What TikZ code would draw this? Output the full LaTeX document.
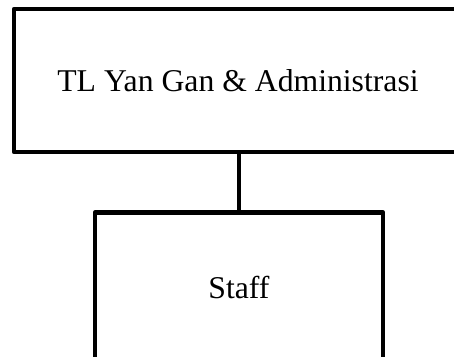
\documentclass[tikz,border=0pt]{standalone}
\usepackage{fontspec}
\setmainfont{Liberation Serif}
\usetikzlibrary{positioning}
\tikzset{
  box/.style={draw=black,line width=4.5pt,line join=round,fill=white,font=\fontsize{31.7}{38}\selectfont,align=center},
  link/.style={draw=black,line width=4.5pt}
}
\begin{document}
\begin{tikzpicture}[x=1pt,y=1pt]
  \path[use as bounding box] (0,0) rectangle (454,356);
  \clip (0,0) rectangle (454,356);

  % Org chart: team lead above, staff below.
  \node[box,minimum width=448pt,minimum height=143pt] (lead) at (238,275.5) {TL Yan Gan \& Administrasi};
  \node[box,minimum width=288pt,minimum height=149.5pt] (staff) at (239,68.75) {Staff};

  \draw[link] (lead.south -| staff.north) -- (staff.north);
\end{tikzpicture}
\end{document}
